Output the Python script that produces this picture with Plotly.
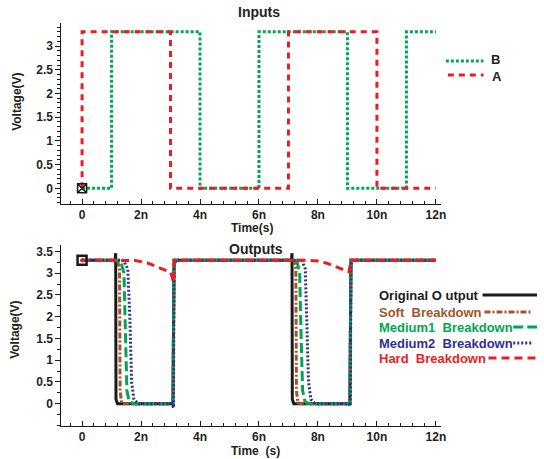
import plotly.graph_objects as go

# ---------------- data ----------------
# Inputs (time in ns, voltage in V)
a_t = [0, 0, 3, 3, 7, 7, 10, 10, 12]
a_v = [0, 3.3, 3.3, 0, 0, 3.3, 3.3, 0, 0]
b_t = [0, 1, 1, 4, 4, 6, 6, 9, 9, 11, 11, 12]
b_v = [0, 0, 3.3, 3.3, 0, 0, 3.3, 3.3, 0, 0, 3.3, 3.3]

# Outputs
orig_t = [0, 1.12, 1.14, 1.15, 1.2, 3.08, 3.12, 7.1, 7.12, 7.13, 7.18, 9.08, 9.12, 12]
orig_v = [3.3, 3.3, 3.46, 0.1, 0, 0, 3.3, 3.3, 3.46, 0.1, 0, 0, 3.3, 3.3]

soft_t = [0, 1.2, 1.27, 1.29, 1.34, 1.45, 3.08, 3.12, 7.18, 7.25, 7.27, 7.32, 7.42, 9.08, 9.12, 12]
soft_v = [3.3, 3.3, 3.1, 0.3, 0.02, 0, 0, 3.3, 3.3, 3.1, 0.3, 0.02, 0, 0, 3.3, 3.3]

med1_t = [0, 1.3, 1.42, 1.47, 1.52, 1.6, 1.75, 3.08, 3.12, 7.28, 7.38, 7.43, 7.48, 7.56, 7.7, 9.08, 9.12, 12]
med1_v = [3.3, 3.3, 3.0, 1.5, 0.3, 0.05, 0, 0, 3.3, 3.3, 3.0, 1.5, 0.3, 0.05, 0, 0, 3.3, 3.3]

med2_t = [0, 1.4, 1.55, 1.62, 1.68, 1.76, 1.9, 3.05, 3.1, 3.12, 3.2, 7.45, 7.57, 7.62, 7.68, 7.76, 7.9, 9.05, 9.1, 9.12, 9.2, 12]
med2_v = [3.3, 3.3, 3.1, 2.0, 0.5, 0.1, 0, 0, -0.1, 3.2, 3.3, 3.3, 3.1, 2.0, 0.5, 0.1, 0, 0, -0.05, 3.2, 3.3, 3.3]

hard_t = [0, 1.8, 2.2, 2.5, 2.8, 3.0, 3.06, 3.09, 3.11, 3.14, 7.6, 8.0, 8.3, 8.6, 8.9, 9.05, 9.12, 12]
hard_v = [3.3, 3.29, 3.24, 3.16, 3.08, 3.02, 2.9, 2.78, 2.95, 3.3, 3.3, 3.28, 3.23, 3.15, 3.07, 3.03, 3.3, 3.3]

x_tickvals = [0, 2, 4, 6, 8, 10, 12]
x_ticktext = ["0", "2n", "4n", "6n", "8n", "10n", "12n"]
y1_tickvals = [0, 0.5, 1, 1.5, 2, 2.5, 3]
y1_ticktext = ["0", "0.5", "1", "1.5", "2", "2.5", "3"]
y2_tickvals = [0, 0.5, 1, 1.5, 2, 2.5, 3, 3.5]
y2_ticktext = ["0", "0.5", "1", "1.5", "2", "2.5", "3", "3.5"]

W, H = 544, 459
def px(x):
    return x / W
def py(y):
    return 1 - y / H

RED = "#ec1c24"
GREEN = "#00a651"
BLUE = "#2e3192"
BROWN = "#a0562c"
BLACK = "#1a1a1a"
TXT = "#231f20"

fig = go.Figure()

# top plot
fig.add_trace(go.Scatter(x=b_t, y=b_v, mode="lines", xaxis="x", yaxis="y",
                         line=dict(color=GREEN, width=3, dash="3px,2px"), showlegend=False))
fig.add_trace(go.Scatter(x=a_t, y=a_v, mode="lines", xaxis="x", yaxis="y",
                         line=dict(color=RED, width=3, dash="6px,5px"), showlegend=False))
fig.add_trace(go.Scatter(x=[0], y=[0], mode="markers", xaxis="x", yaxis="y",
                         marker=dict(symbol="square-x-open", size=9, color=BLACK, line=dict(width=1.5)),
                         showlegend=False))

# bottom plot
series = [
    (orig_t, orig_v, BLACK, None),
    (soft_t, soft_v, BROWN, "6px,2px,2px,2px"),
    (med1_t, med1_v, GREEN, "10px,4px"),
    (med2_t, med2_v, BLUE, "2px,2px"),
    (hard_t, hard_v, RED, "8px,5px"),
]
for t, v, c, d in series:
    ln = dict(color=c, width=3)
    if d:
        ln["dash"] = d
    fig.add_trace(go.Scatter(x=t, y=v, mode="lines", xaxis="x2", yaxis="y2",
                             line=ln, showlegend=False))
fig.add_trace(go.Scatter(x=[0], y=[3.3], mode="markers", xaxis="x2", yaxis="y2",
                         marker=dict(symbol="square-open", size=9, color=BLACK, line=dict(width=2.5)),
                         showlegend=False))
fig.add_trace(go.Scatter(x=[0], y=[3.3], mode="markers", xaxis="x2", yaxis="y2",
                         marker=dict(symbol="circle", size=4, color=RED), showlegend=False))

tickfont = dict(family="Liberation Sans, Arial", size=12, color=TXT, weight="bold")
xcommon = dict(range=[-0.7, 12.17], tickvals=x_tickvals, ticktext=x_ticktext,
               showline=True, linecolor=BLACK, linewidth=1, ticks="inside", ticklen=5,
               tickcolor=BLACK, tickfont=tickfont, showgrid=False, zeroline=False,
               minor=dict(ticks="inside", ticklen=3, dtick=0.4, tickcolor=BLACK, showgrid=False),
               domain=[px(62), px(445)])
ycommon = dict(showline=True, linecolor=BLACK, linewidth=1, ticks="outside", ticklen=5,
               tickcolor=BLACK, tickfont=tickfont, showgrid=False, zeroline=False)

fig.update_layout(
    width=W, height=H, margin=dict(l=0, r=0, t=0, b=0),
    paper_bgcolor="white", plot_bgcolor="white",
    xaxis=dict(**xcommon, anchor="y"),
    yaxis=dict(**ycommon, range=[-0.331, 3.487], tickvals=y1_tickvals, ticktext=y1_ticktext,
               anchor="x",
               minor=dict(ticks="outside", ticklen=3, dtick=0.1, tick0=0, tickcolor=BLACK, showgrid=False),
               domain=[py(204), py(23)]),
    xaxis2=dict(**xcommon, anchor="y2"),
    yaxis2=dict(**ycommon, range=[-0.513, 3.648], tickvals=y2_tickvals, ticktext=y2_ticktext,
                anchor="x2",
                minor=dict(ticks="outside", ticklen=3, dtick=0.25, tick0=0, tickcolor=BLACK, showgrid=False),
                domain=[py(426), py(245)]),
)

def ann(text, x, y, size=12, color=TXT, xanchor="center", angle=0):
    fig.add_annotation(text=text, x=px(x), y=py(y), xref="paper", yref="paper",
                       showarrow=False, xanchor=xanchor, yanchor="middle", textangle=angle,
                       font=dict(family="Liberation Sans, Arial", size=size, color=color, weight="bold"))

ann("Inputs", 261, 12, size=14)
ann("Outputs", 258, 249, size=14)
ann("Time(s)", 254, 228)
ann("Time  (s)", 258, 451)
ann("Voltage(V)", 17, 102, angle=-90)
ann("Voltage(V)", 15, 330, angle=-90)

def seg(x0, x1, y, color, dash=None, width=3):
    ln = dict(color=color, width=width)
    if dash:
        ln["dash"] = dash
    fig.add_shape(type="line", xref="paper", yref="paper", x0=px(x0), x1=px(x1),
                  y0=py(y), y1=py(y), line=ln)

# top legend
seg(450, 488, 61, GREEN, "3px,2px")
ann("B", 494, 60, size=13, color=TXT, xanchor="left")
seg(452, 488, 75, RED, "6px,5px")
ann("A", 495, 76, size=13, color=TXT, xanchor="left")

# bottom legend
ann("Original O utput", 381, 295, size=13, color=BLACK, xanchor="left")
seg(487, 542, 295, BLACK, None)
ann("Soft  Breakdown", 381, 312, size=13, color=BROWN, xanchor="left")
seg(489, 537, 312, BROWN, "6px,2px,2px,2px")
ann("Medium1  Breakdown", 381, 327, size=13, color=GREEN, xanchor="left")
seg(518, 542, 327, GREEN, "10px,4px")
ann("Medium2  Breakdown", 381, 343, size=13, color=BLUE, xanchor="left")
seg(518, 537, 343, BLUE, "2px,2px")
ann("Hard  Breakdown", 381, 358, size=13, color=RED, xanchor="left")
seg(493, 542, 358, RED, "8px,5px")

fig.write_html("out.html")
